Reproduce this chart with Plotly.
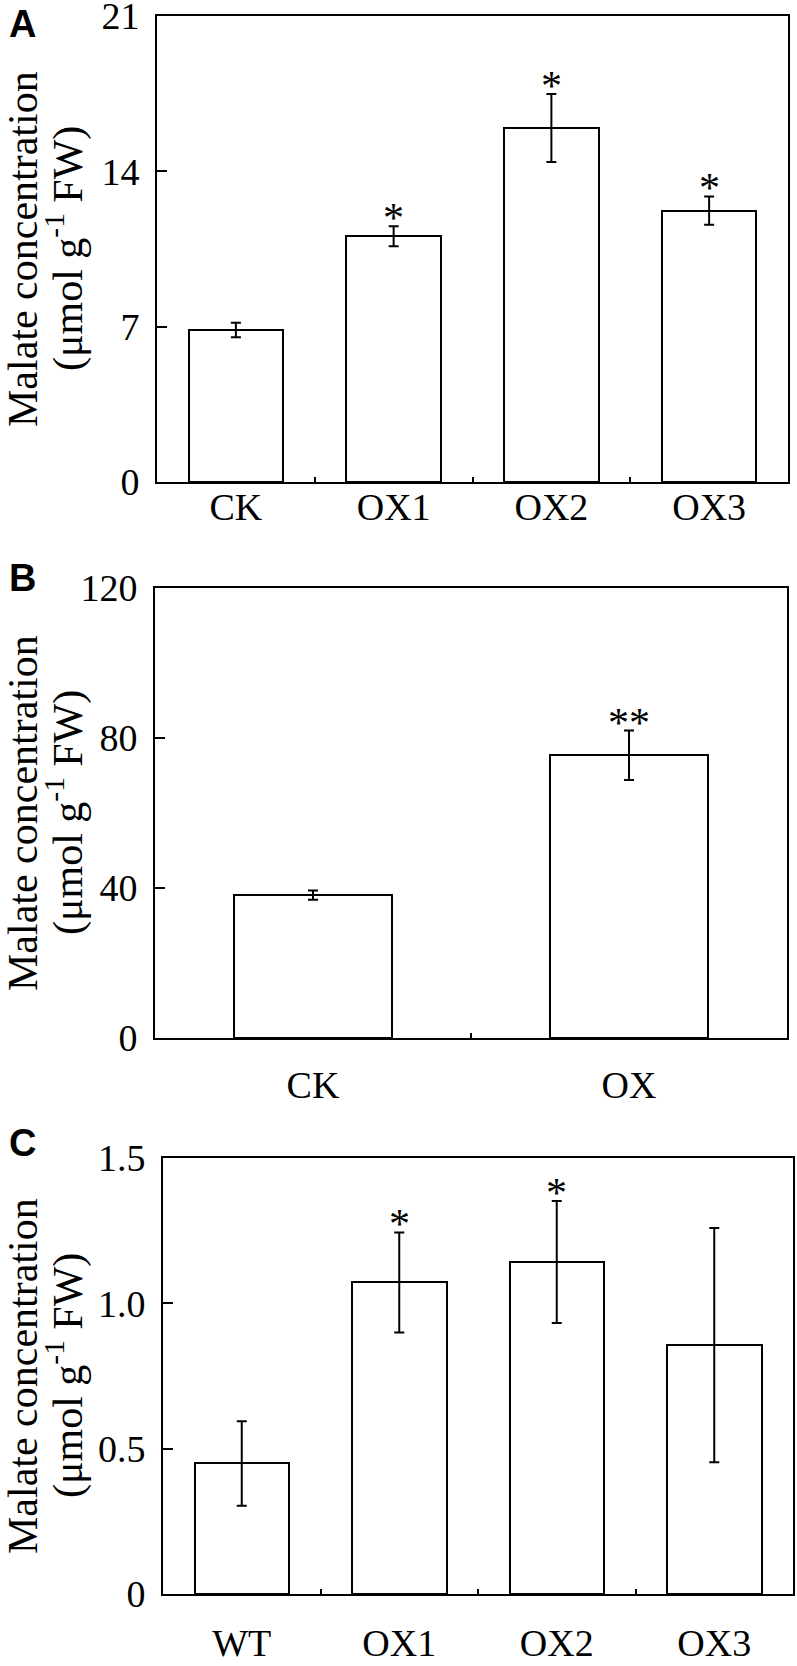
import plotly.graph_objects as go

# panel A
a_cats = ["CK", "OX1", "OX2", "OX3"]
a_vals = [6.85, 11.07, 15.95, 12.23]
a_err = [0.33, 0.45, 1.53, 0.64]
a_sig = ["", "*", "*", "*"]
a_ticks = [0, 7, 14, 21]

# panel B
b_cats = ["CK", "OX"]
b_vals = [38.1, 75.4]
b_err = [1.2, 6.6]
b_sig = ["", "**"]
b_ticks = [0, 40, 80, 120]

# panel C
c_cats = ["WT", "OX1", "OX2", "OX3"]
c_vals = [0.449, 1.072, 1.142, 0.856]
c_err = [0.145, 0.172, 0.21, 0.403]
c_sig = ["", "*", "*", ""]
c_ticks = [0, 0.5, 1.0, 1.5]
c_ticktext = ["0", "0.5", "1.0", "1.5"]

W, H = 797, 1666
serif = "Liberation Serif, Times New Roman, serif"

# plot boxes in pixels: (left, right, top, bottom)
boxes = [(157, 788, 16, 482), (155, 787, 588, 1038), (163, 793, 1158, 1594)]
xlabel_pad = [-10, 12, 14]      # x tick label standoff per panel
letter_mid = [24, 578, 1143]    # panel letter centre (px from top)

panels = [
    dict(cats=a_cats, vals=a_vals, err=a_err, sig=a_sig, ticks=a_ticks,
         ticktext=[str(t) for t in a_ticks], width=0.6, label="A"),
    dict(cats=b_cats, vals=b_vals, err=b_err, sig=b_sig, ticks=b_ticks,
         ticktext=[str(t) for t in b_ticks], width=0.5, label="B"),
    dict(cats=c_cats, vals=c_vals, err=c_err, sig=c_sig, ticks=c_ticks,
         ticktext=c_ticktext, width=0.6, label="C"),
]

fig = go.Figure()
annotations = []
layout = {}

for i, (p, box) in enumerate(zip(panels, boxes)):
    n = "" if i == 0 else str(i + 1)
    left, right, top, bottom = box
    fig.add_trace(go.Bar(
        x=p["cats"], y=p["vals"], width=p["width"],
        marker=dict(color="white", line=dict(color="black", width=2)),
        error_y=dict(type="data", array=p["err"], color="black",
                     thickness=2, width=5),
        xaxis="x" + n, yaxis="y" + n, showlegend=False))

    layout["xaxis" + n] = dict(
        domain=[left / W, right / W], anchor="y" + n, automargin=False,
        showline=True, linecolor="black", linewidth=2, mirror=True,
        ticks="inside", tickson="boundaries", ticklen=5, tickwidth=1.5,
        tickcolor="black", showgrid=False, zeroline=False,
        tickfont=dict(family=serif, size=38, color="black"),
        ticklabelstandoff=xlabel_pad[i], ticklabeloverflow="allow")
    layout["yaxis" + n] = dict(
        domain=[1 - bottom / H, 1 - top / H], anchor="x" + n, automargin=False,
        range=[p["ticks"][0], p["ticks"][-1]],
        tickvals=p["ticks"], ticktext=p["ticktext"],
        showline=True, linecolor="black", linewidth=2, mirror=True,
        ticks="inside", ticklen=10, tickwidth=2, tickcolor="black",
        showgrid=False, zeroline=False,
        tickfont=dict(family=serif, size=38, color="black"),
        ticklabelstandoff=8, ticklabeloverflow="allow")

    # significance marks
    for c, v, e, s in zip(p["cats"], p["vals"], p["err"], p["sig"]):
        if s:
            annotations.append(dict(
                x=c, y=v + e, xref="x" + n, yref="y" + n, text=s,
                showarrow=False, yanchor="bottom", yshift=-17,
                font=dict(family=serif, size=42, color="black")))

    # y axis title, two lines
    yc = 1 - (top + bottom) / 2 / H
    annotations.append(dict(
        x=23 / W, y=yc, xref="paper", yref="paper", text="Malate concentration",
        textangle=-90, showarrow=False, xanchor="center", yanchor="middle",
        font=dict(family=serif, size=42, color="black")))
    annotations.append(dict(
        x=65 / W, y=yc, xref="paper", yref="paper",
        text="(μmol g<sup>-1</sup> FW)",
        textangle=-90, showarrow=False, xanchor="center", yanchor="middle",
        font=dict(family=serif, size=42, color="black")))

    # panel letter
    annotations.append(dict(
        x=7 / W, y=1 - letter_mid[i] / H, xref="paper", yref="paper",
        text="<b>" + p["label"] + "</b>", showarrow=False,
        xanchor="left", yanchor="middle",
        font=dict(family="Liberation Sans, Arial, sans-serif", size=38,
                  color="black")))

fig.update_layout(layout)
fig.update_layout(
    width=W, height=H, margin=dict(l=0, r=0, t=0, b=0, autoexpand=False),
    paper_bgcolor="white", plot_bgcolor="white",
    bargap=0, annotations=annotations)

fig.write_html("out.html", config={"displayModeBar": False},
               post_script="document.body.style.margin='0';")
